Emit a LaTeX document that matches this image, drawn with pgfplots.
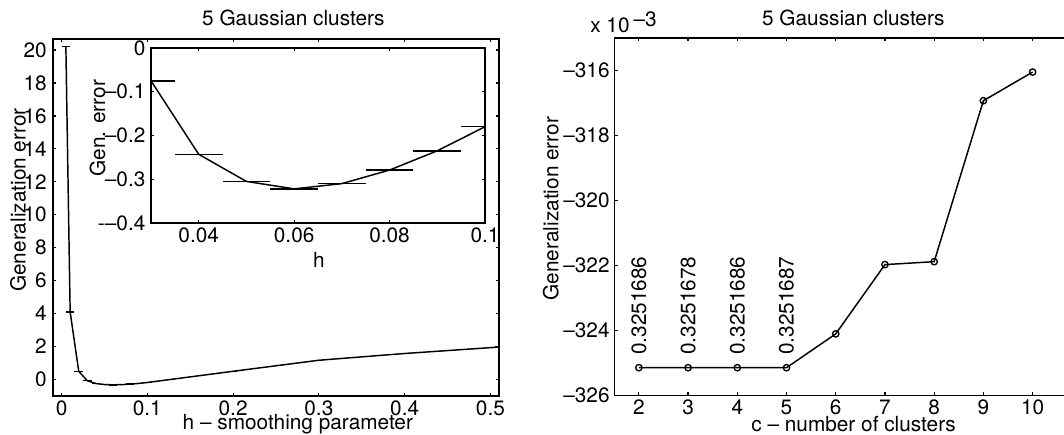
\documentclass[border=0pt]{standalone}
\usepackage{fontspec}
\setmainfont{TeX Gyre Heros}
\usepackage{pgfplots}
\usepackage{pgfplotstable}
\pgfplotsset{compat=1.18}

% generalization error vs smoothing parameter h
\pgfplotstableread{
h err
0.005 20.2
0.01 4.1
0.02 0.5
0.03 -0.075
0.04 -0.243
0.05 -0.305
0.06 -0.322
0.07 -0.310
0.08 -0.279
0.09 -0.235
0.10 -0.180
0.20 0.50
0.30 1.17
0.40 1.58
0.51 1.97
}\smoothing

% generalization error (x 1e-3) vs number of clusters
\pgfplotstableread{
c err
2 -325.14
3 -325.14
4 -325.14
5 -325.14
6 -324.10
7 -321.97
8 -321.88
9 -316.93
10 -316.05
}\clusters

\pgfplotsset{matlab/.style={
  scale only axis, anchor=south west,
  tick align=inside, major tick length=2.5pt,
  axis line style={line width=0.9pt},
  every tick/.style={black, line width=0.9pt},
  font=\fontsize{15.6}{18}\selectfont,
  xticklabel style={inner sep=0pt, anchor=north, yshift=-3pt},
  title style={anchor=center, inner sep=0pt},
  xlabel style={anchor=center, inner sep=0pt},
  ylabel style={anchor=center, inner sep=0pt},
}}

\begin{document}
\begin{tikzpicture}
\useasboundingbox (0,0) rectangle (798pt,326.25pt);

% left: main plot
\begin{axis}[matlab,
  at={(39.75pt,29.25pt)}, width=334.5pt, height=267.75pt,
  xmin=-0.01, xmax=0.51, ymin=-1, ymax=20.67,
  xtick={0,0.1,0.2,0.3,0.4,0.5}, xticklabels={0,0.1,0.2,0.3,0.4,0.5},
  ytick={0,2,...,20}, yticklabels={0,2,4,6,8,10,12,14,16,18,20},
  yticklabel style={inner sep=0pt, anchor=east, xshift=-4.5pt},
  title={5 Gaussian clusters},
  title style={at={([yshift=9.5pt]rel axis cs:0.539,1)}},
  xlabel={h \textendash{} smoothing parameter},
  xlabel style={at={([yshift=-21.5pt]rel axis cs:0.549,0)}},
  ylabel={Generalization error},
  ylabel style={at={([xshift=-26.25pt]rel axis cs:0,0.549)}},
]
\addplot[black, line width=1.1pt,
  error bars/.cd, x dir=both, x fixed=0.005, error mark=none,
  error bar style={line width=1.1pt}] table {\smoothing};
\end{axis}

% left: inset
\begin{axis}[matlab,
  at={(113.25pt,159pt)}, width=250.5pt, height=131.25pt,
  axis background/.style={fill=white},
  xmin=0.03, xmax=0.1, ymin=-0.4, ymax=0,
  xtick={0.04,0.06,0.08,0.1}, xticklabels={0.04,0.06,0.08,0.1},
  ytick={-0.4,-0.3,-0.2,-0.1,0},
  yticklabels={-\textendash0.4,\textendash0.3,\textendash0.2,\textendash0.1,0},
  yticklabel style={inner sep=0pt, anchor=east, xshift=-4pt},
  xlabel={h},
  xlabel style={at={([yshift=-28pt]rel axis cs:0.503,0)}},
  ylabel={Gen. error},
  ylabel style={at={([xshift=-40.1pt]rel axis cs:0,0.541)}},
]
\addplot[black, line width=1.1pt,
  error bars/.cd, x dir=both, x fixed=0.005, error mark=none,
  error bar style={line width=1.1pt}] table {\smoothing};
\end{axis}

% right
\begin{axis}[matlab,
  at={(460.7pt,29.5pt)}, width=341.8pt, height=268.3pt,
  xmin=1.5, xmax=10.76, ymin=-326, ymax=-315,
  xtick={2,3,4,5,6,7,8,9,10}, xticklabels={2,3,4,5,6,7,8,9,10},
  ytick={-326,-324,-322,-320,-318,-316},
  yticklabels={\textendash326,\textendash324,\textendash322,\textendash320,\textendash318,\textendash316},
  yticklabel style={inner sep=0pt, anchor=east, xshift=-3.3pt},
  title={5 Gaussian clusters},
  title style={at={([yshift=8.8pt]rel axis cs:0.5245,1)}},
  xlabel={c \textendash{} number of clusters},
  xlabel style={at={([yshift=-21pt]rel axis cs:0.525,0)}},
  ylabel={Generalization error},
  ylabel style={at={([xshift=-47.7pt]rel axis cs:0,0.523)}},
]
\addplot[black, line width=1.1pt, mark=o, mark size=2.4pt,
  mark options={line width=1pt}] table {\clusters};
\node[rotate=90, anchor=west, inner sep=0pt] at (axis cs:2,-324.75) {0.3251686};
\node[rotate=90, anchor=west, inner sep=0pt] at (axis cs:3,-324.75) {0.3251678};
\node[rotate=90, anchor=west, inner sep=0pt] at (axis cs:4,-324.75) {0.3251686};
\node[rotate=90, anchor=west, inner sep=0pt] at (axis cs:5,-324.75) {0.3251687};
\end{axis}

\node[anchor=base west, inner sep=0pt, font=\fontsize{15.6}{18}\selectfont]
  at (442.5pt,301.5pt) {x 10\hspace{3pt}\raisebox{5pt}{\textendash3}};
\end{tikzpicture}
\end{document}
